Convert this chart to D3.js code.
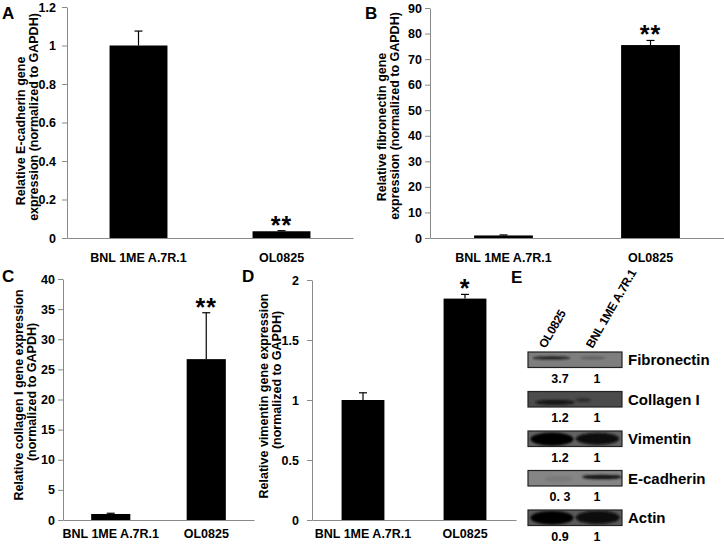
<!DOCTYPE html>
<html><head><meta charset="utf-8">
<script src="https://cdn.jsdelivr.net/npm/d3@7"></script>
<style>
body{margin:0;background:#fff}
svg text{font-family:"Liberation Sans",Arial,sans-serif;font-weight:bold}
</style></head><body>
<svg id="fig" width="724" height="546"></svg>
<script>
// ---------------- DATA ----------------
const categories = ["BNL 1ME A.7R.1", "OL0825"];

const ecadValues = [1.0, 0.035];
const ecadErrors = [0.075, 0.003];
const ecadStars = ["", "**"];
const ecadTicks = [0, 0.2, 0.4, 0.6, 0.8, 1, 1.2];

const fibroValues = [1.0, 75.5];
const fibroErrors = [0.2, 1.8];
const fibroStars = ["", "**"];
const fibroTicks = [0, 10, 20, 30, 40, 50, 60, 70, 80, 90];

const collagenValues = [1.0, 26.7];
const collagenErrors = [0.12, 7.7];
const collagenStars = ["", "**"];
const collagenTicks = [0, 5, 10, 15, 20, 25, 30, 35, 40];

const vimentinValues = [1.0, 1.845];
const vimentinErrors = [0.06, 0.035];
const vimentinStars = ["", "*"];
const vimentinTicks = [0, 0.5, 1, 1.5, 2];

const blotLanes = ["OL0825", "BNL 1ME A.7R.1"];
const blotProteins = ["Fibronectin", "Collagen I", "Vimentin", "E-cadherin", "Actin"];
const blotRatios = [["3.7", "1"], ["1.2", "1"], ["1.2", "1"], ["0. 3", "1"], ["0.9", "1"]];

// ---------------- LAYOUT / STYLE ----------------
const svg = d3.select("#fig");
const axisColor = "#8a8a8a";
const FONT = '"Liberation Sans", Arial, sans-serif';

const panels = [
  {letter: "A", letterX: 2, letterY: 18.5, values: ecadValues, errors: ecadErrors, stars: ecadStars, ticks: ecadTicks, yMax: 1.2,
   title: ["Relative E-cadherin gene", "expression (normalized to GAPDH)"], titleX: [25, 38], titleY: [131, 117],
   x0: 67, x1: 353, yT: 7, yB: 238, pad: 0.595, tickPad: 6, xPad: 15},
  {letter: "B", letterX: 365, letterY: 18.5, values: fibroValues, errors: fibroErrors, stars: fibroStars, ticks: fibroTicks, yMax: 90,
   title: ["Relative fibronectin gene", "expression (normalized to GAPDH)"], titleX: [386, 399], titleY: [127, 116],
   x0: 430, x1: 724, yT: 8, yB: 238, pad: 0.6, tickPad: 3, xPad: 15},
  {letter: "C", letterX: 2, letterY: 282, values: collagenValues, errors: collagenErrors, stars: collagenStars, ticks: collagenTicks, yMax: 40,
   title: ["Relative collagen I gene expression", "(normalized to GAPDH)"], titleX: [23, 36], titleY: [395, 392],
   x0: 63, x1: 254, yT: 279, yB: 520, pad: 0.59, tickPad: 3, xPad: 9.5},
  {letter: "D", letterX: 242, letterY: 282, values: vimentinValues, errors: vimentinErrors, stars: vimentinStars, ticks: vimentinTicks, yMax: 2,
   title: ["Relative vimentin gene expression", "(normalized to GAPDH)"], titleX: [268, 281], titleY: [396, 380],
   x0: 312, x1: 516, yT: 280, yB: 520, pad: 0.58, tickPad: 8, xPad: 9.5}
];

function drawPanel(p) {
  const g = svg.append("g");
  const x = d3.scaleBand().domain(categories).range([p.x0, p.x1])
    .paddingInner(p.pad).paddingOuter(p.pad / 2);
  const y = d3.scaleLinear().domain([0, p.yMax]).range([p.yB, p.yT]);

  const ya = g.append("g").attr("transform", `translate(${p.x0},0)`)
    .call(d3.axisLeft(y).tickValues(p.ticks).tickSize(5).tickSizeOuter(0)
      .tickPadding(p.tickPad).tickFormat(d3.format("~g")));
  ya.attr("font-family", FONT).attr("font-size", 12.5).attr("font-weight", "bold");
  ya.select(".domain").attr("stroke", axisColor);
  ya.selectAll(".tick line").attr("stroke", axisColor);
  ya.selectAll(".tick text").attr("fill", "#000");

  const xa = g.append("g").attr("transform", `translate(0,${p.yB})`)
    .call(d3.axisBottom(x).tickSize(0).tickSizeOuter(0).tickPadding(p.xPad));
  xa.attr("font-family", FONT).attr("font-size", 12.5).attr("font-weight", "bold");
  xa.select(".domain").attr("stroke", axisColor);
  xa.selectAll(".tick text").attr("fill", "#000");

  const data = categories.map((c, i) => ({c, v: p.values[i], e: p.errors[i], s: p.stars[i]}));

  g.selectAll("rect.bar").data(data).join("rect").attr("class", "bar")
    .attr("x", d => x(d.c)).attr("width", x.bandwidth())
    .attr("y", d => y(d.v)).attr("height", d => y(0) - y(d.v))
    .attr("fill", "#000");

  const cx = d => x(d.c) + x.bandwidth() / 2;
  g.selectAll("line.err").data(data).join("line").attr("class", "err")
    .attr("x1", cx).attr("x2", cx).attr("y1", d => y(d.v)).attr("y2", d => y(d.v + d.e))
    .attr("stroke", "#000").attr("stroke-width", 1.2);
  g.selectAll("line.cap").data(data).join("line").attr("class", "cap")
    .attr("x1", d => cx(d) - 4).attr("x2", d => cx(d) + 4)
    .attr("y1", d => y(d.v + d.e)).attr("y2", d => y(d.v + d.e))
    .attr("stroke", "#000").attr("stroke-width", 1.2);

  g.selectAll("text.star").data(data).join("text").attr("class", "star")
    .attr("x", cx).attr("y", d => y(d.v + d.e) + 3)
    .attr("text-anchor", "middle").attr("font-size", 25)
    .attr("font-weight", "normal").attr("letter-spacing", 1).text(d => d.s);

  p.title.forEach((t, i) => {
    g.append("text")
      .attr("transform", `translate(${p.titleX[i]},${p.titleY[i]}) rotate(-90)`)
      .attr("text-anchor", "middle").attr("font-size", 12.5).text(t);
  });

  g.append("text").attr("x", p.letterX).attr("y", p.letterY)
    .attr("font-size", 17).text(p.letter);
}
panels.forEach(drawPanel);

// ---------------- PANEL E : western blot ----------------
const gE = svg.append("g");
gE.append("text").attr("x", 511).attr("y", 283).attr("font-size", 17).text("E");

const laneX = d3.scaleBand().domain(blotLanes).range([528, 622]);
const ratioX = d3.scalePoint().domain(blotLanes).range([560, 597]);
const rowY = d3.scalePoint().domain(blotProteins).range([352, 510]);
const boxH = 15.5;

// band appearance (style only)
const rowBg = {"Fibronectin": "#7e7e7e", "Collagen I": "#4c4c4c", "Vimentin": "#626262", "E-cadherin": "#858585", "Actin": "#5a5a5a"};
const bandStyle = {
  "Fibronectin": [{x: 0.1, w: 0.8, cy: 0.38, h: 0.22, c: "#1e1e1e"}, {x: 0.1, w: 0.55, cy: 0.38, h: 0.18, c: "#5c5c5c"}],
  "Collagen I": [{x: 0.15, w: 0.85, cy: 0.7, h: 0.35, c: "#151515"}, {x: 0.0, w: 0.35, cy: 0.55, h: 0.25, c: "#2e2e2e"}],
  "Vimentin": [{x: 0.05, w: 0.92, cy: 0.52, h: 0.85, c: "#050505"}, {x: 0.02, w: 0.92, cy: 0.5, h: 0.78, c: "#080808"}],
  "E-cadherin": [{x: 0.35, w: 0.6, cy: 0.55, h: 0.4, c: "#7a7a7a"}, {x: 0.15, w: 0.85, cy: 0.42, h: 0.3, c: "#151515"}],
  "Actin": [{x: 0.05, w: 0.92, cy: 0.5, h: 0.88, c: "#050505"}, {x: 0.02, w: 0.93, cy: 0.48, h: 0.85, c: "#080808"}]
};

const defs = svg.append("defs");
defs.append("filter").attr("id", "blur").attr("x", "-20%").attr("y", "-50%").attr("width", "140%").attr("height", "200%")
  .append("feGaussianBlur").attr("stdDeviation", 1.3);

blotProteins.forEach((prot, ri) => {
  const top = rowY(prot);
  const x0 = laneX.range()[0], x1 = laneX.range()[1];
  defs.append("clipPath").attr("id", "clip" + ri)
    .append("rect").attr("x", x0).attr("y", top).attr("width", x1 - x0).attr("height", boxH);
  const row = gE.append("g");
  row.append("rect").attr("x", x0).attr("y", top).attr("width", x1 - x0).attr("height", boxH)
    .attr("fill", rowBg[prot]);
  const bands = row.append("g").attr("clip-path", `url(#clip${ri})`)
    .append("g").attr("filter", "url(#blur)");
  blotLanes.forEach((lane, li) => {
    const s = bandStyle[prot][li];
    const lx = laneX(lane), bw = laneX.bandwidth();
    bands.append("ellipse")
      .attr("cx", lx + bw * (s.x + s.w / 2)).attr("cy", top + boxH * s.cy)
      .attr("rx", bw * s.w / 2).attr("ry", boxH * s.h / 2)
      .attr("fill", s.c);
  });
  row.append("rect").attr("x", x0).attr("y", top).attr("width", x1 - x0).attr("height", boxH)
    .attr("fill", "none").attr("stroke", "#222").attr("stroke-width", 1.2);

  row.append("text").attr("x", 628).attr("y", top + boxH / 2).attr("dy", "0.36em")
    .attr("font-size", 15).text(prot);

  blotLanes.forEach((lane, li) => {
    row.append("text").attr("x", ratioX(lane)).attr("y", top + boxH + 15)
      .attr("text-anchor", "middle").attr("font-size", 12.5).text(blotRatios[ri][li]);
  });
});

blotLanes.forEach(lane => {
  gE.append("text")
    .attr("transform", `translate(${laneX(lane) + laneX.bandwidth() / 2 - 6},349) rotate(-60)`)
    .attr("font-size", 12).attr("letter-spacing", -0.3).text(lane);
});
</script>
</body></html>
